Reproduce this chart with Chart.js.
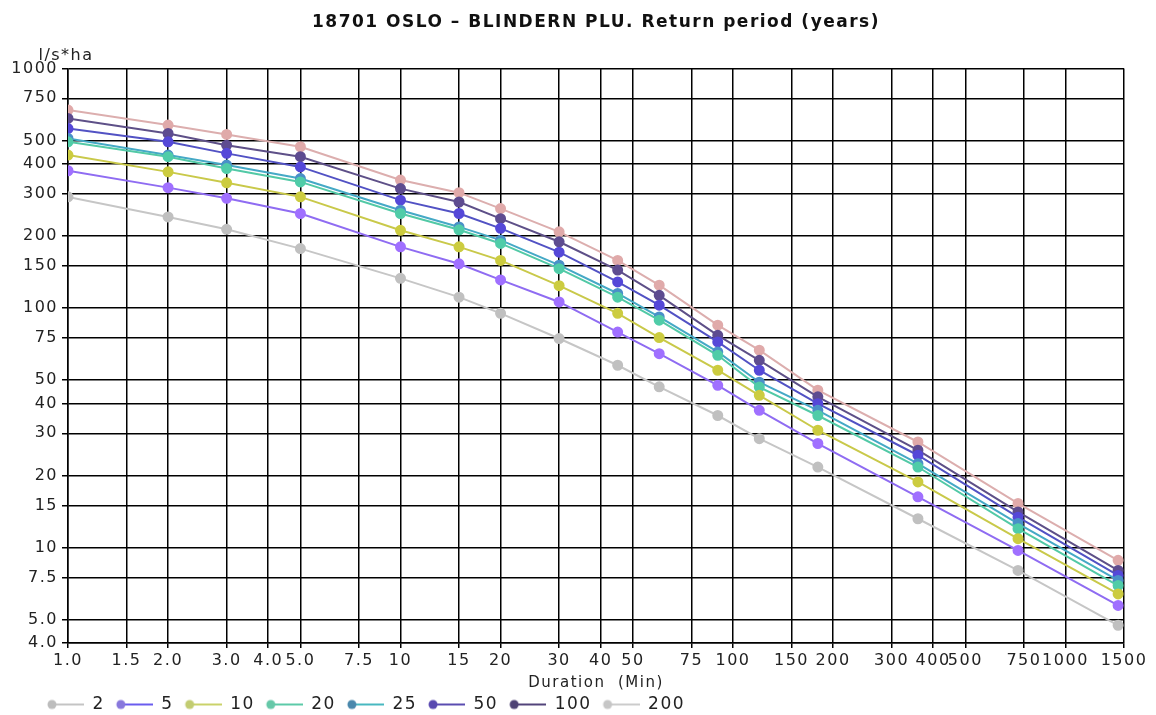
<!DOCTYPE html>
<html>
<head>
<meta charset="utf-8">
<script src="https://cdn.jsdelivr.net/npm/chart.js@4.4.1/dist/chart.umd.min.js"></script>
<style>
  html, body { margin: 0; padding: 0; background: #fff; }
  #wrap { width: 1156px; height: 715px; }
</style>
</head>
<body>
<div id="wrap"><canvas id="idf"></canvas></div>
<script>
// durations in minutes (x), intensities in l/s*ha (y), one array per return period
const durations = [1, 2, 3, 5, 10, 15, 20, 30, 45, 60, 90, 120, 180, 360, 720, 1440];

const rp2   = [291, 240, 213, 177, 133, 111, 95, 74.6, 57.7, 46.9, 35.6, 28.5, 21.7, 13.2, 8.03, 4.74];
const rp5   = [374, 318, 287, 248, 180, 153, 131, 106, 79.4, 64.5, 47.6, 37.4, 27.2, 16.3, 9.74, 5.74];
const rp10  = [435, 370, 333, 291, 211, 180, 158, 124, 95, 75.3, 55, 43.2, 30.9, 18.8, 10.9, 6.41];
const rp20  = [494, 428, 382, 336, 248, 212, 186, 146, 111, 89, 63.5, 46.8, 35.6, 21.7, 12.0, 6.95];
const rp25  = [510, 435, 395, 347, 256, 218, 192, 151, 115, 91.8, 65.6, 49, 37.4, 22.4, 12.6, 7.3];
const rp50  = [561, 494, 442, 388, 282, 248, 215, 171, 128.5, 102.8, 72.2, 55, 39.9, 24.3, 13.4, 7.66];
const rp100 = [618, 535, 478, 428, 315, 277, 236, 189, 144, 113, 76.9, 60.5, 42.6, 25.5, 14.1, 8.03];
const rp200 = [670, 580, 530, 471, 342, 303, 260, 208, 158, 124.5, 84.8, 66.7, 45.4, 27.6, 15.3, 8.85];

const seriesNames = ['2', '5', '10', '20', '25', '50', '100', '200'];
const seriesValues = [rp2, rp5, rp10, rp20, rp25, rp50, rp100, rp200];

// tick positions and their printed labels
const xTickValues = [1, 1.5, 2, 3, 4, 5, 7.5, 10, 15, 20, 30, 40, 50, 75, 100, 150, 200, 300, 400, 500, 750, 1000, 1500];
const xTickLabels = ['1.0', '1.5', '2.0', '3.0', '4.0', '5.0', '7.5', '10', '15', '20', '30', '40', '50', '75', '100', '150', '200', '300', '400', '500', '750', '1000', '1500'];
const yTickValues = [4, 5, 7.5, 10, 15, 20, 30, 40, 50, 75, 100, 150, 200, 300, 400, 500, 750, 1000];
const yTickLabels = ['4.0', '5.0', '7.5', '10', '15', '20', '30', '40', '50', '75', '100', '150', '200', '300', '400', '500', '750', '1000'];

const lineColors   = ['#c6c6c6', '#8f6cf2', '#c9c94a', '#52c9a6', '#45a9c6', '#5252c4', '#5e5088', '#dcaeae'];
const pointColors  = ['#c0c0c0', '#a070ff', '#cccc40', '#50cca8', '#4a90c8', '#5548d8', '#5e4c90', '#e0aaaa'];
// the legend swatches in the original use slightly different tints
const legendLines  = ['#c4c4c4', '#6a5cee', '#cad26a', '#5ccaa8', '#48b8c0', '#5a4cb0', '#52447a', '#cccccc'];
const legendPoints = ['#bdbdbd', '#8878dc', '#c2cc72', '#66c8a8', '#4a88ac', '#5848b0', '#4e4274', '#c6c6c6'];

const FONT = "'DejaVu Sans', sans-serif";

const datasets = seriesNames.map((name, i) => ({
    label: name,
    data: durations.map((d, j) => ({ x: d, y: seriesValues[i][j] })),
    borderColor: lineColors[i],
    backgroundColor: pointColors[i],
    pointBackgroundColor: pointColors[i],
    pointBorderColor: pointColors[i],
    borderWidth: 2,
    pointRadius: 4.5,
    tension: 0
}));

// small "dot + line" swatch for each legend entry
function makeSwatch(lineCol, dotCol) {
    const c = document.createElement('canvas');
    c.width = 38;
    c.height = 12;
    const g = c.getContext('2d');
    g.strokeStyle = lineCol;
    g.lineWidth = 2;
    g.beginPath();
    g.moveTo(5, 6);
    g.lineTo(38, 6);
    g.stroke();
    g.fillStyle = dotCol;
    g.beginPath();
    g.arc(6, 6, 4.5, 0, Math.PI * 2);
    g.fill();
    return c;
}
const swatches = seriesNames.map((n, i) => makeSwatch(legendLines[i], legendPoints[i]));

// wider letter spacing to get closer to the original's font metrics
const spacing = {
    id: 'spacing',
    beforeUpdate(chart) { chart.ctx.letterSpacing = '1.5px'; },
    beforeDraw(chart) { chart.ctx.letterSpacing = '1.5px'; }
};

// fix the legend strip height and start it under the y axis labels
const legendPlace = {
    id: 'legendPlace',
    beforeLayout(chart) {
        const lg = chart.legend;
        if (lg && !lg._patched) {
            const fit = lg.fit.bind(lg);
            lg.fit = function () { fit(); this.height = 22; };
            lg._patched = true;
        }
    },
    afterLayout(chart) {
        if (chart.legend) {
            chart.legend.left = 36;
            chart.legend.top -= 7;
        }
    }
};

// unit label above the y axis
const unitLabel = {
    id: 'unitLabel',
    afterDraw(chart) {
        const { ctx, chartArea } = chart;
        ctx.save();
        ctx.font = '16px ' + FONT;
        ctx.fillStyle = '#222';
        ctx.textAlign = 'center';
        ctx.textBaseline = 'middle';
        ctx.fillText('l/s*ha', chartArea.left - 2, chartArea.top - 13);
        ctx.restore();
    }
};

new Chart(document.getElementById('idf'), {
    type: 'line',
    data: { datasets },
    plugins: [spacing, legendPlace, unitLabel],
    options: {
        responsive: true,
        maintainAspectRatio: false,
        animation: false,
        layout: { padding: { left: 0, right: 32, top: 0, bottom: 0 } },
        plugins: {
            title: {
                display: true,
                fullSize: false,
                text: '18701 OSLO – BLINDERN PLU. Return period (years)',
                color: '#111',
                font: { family: FONT, size: 17, weight: 'bold' },
                padding: { top: 12, bottom: 36 }
            },
            legend: {
                position: 'bottom',
                align: 'start',
                labels: {
                    color: '#222',
                    font: { family: FONT, size: 17 },
                    usePointStyle: true,
                    pointStyleWidth: 38,
                    padding: 10,
                    generateLabels: (chart) => {
                        const items = Chart.defaults.plugins.legend.labels.generateLabels(chart);
                        items.forEach((it, i) => { it.pointStyle = swatches[i]; });
                        return items;
                    }
                }
            },
            tooltip: { enabled: false }
        },
        scales: {
            x: {
                type: 'logarithmic',
                min: 1,
                max: 1500,
                afterBuildTicks: (axis) => { axis.ticks = xTickValues.map(v => ({ value: v })); },
                afterFit: (axis) => { axis.height = 50; },
                ticks: {
                    autoSkip: false,
                    maxRotation: 0,
                    minRotation: 0,
                    color: '#222',
                    padding: 3,
                    font: { family: FONT, size: 16 },
                    callback: (v, i) => xTickLabels[i]
                },
                grid: { color: '#000', lineWidth: 1.5, tickLength: 5 },
                border: { color: '#000', width: 1.5 },
                title: {
                    display: true,
                    text: 'Duration  (Min)',
                    color: '#222',
                    font: { family: FONT, size: 15 },
                    padding: { top: 0, bottom: 1 }
                }
            },
            y: {
                type: 'logarithmic',
                min: 4,
                max: 1000,
                afterBuildTicks: (axis) => { axis.ticks = yTickValues.map(v => ({ value: v })); },
                afterFit: (axis) => { axis.width = 68; },
                ticks: {
                    autoSkip: false,
                    color: '#222',
                    padding: 4,
                    font: { family: FONT, size: 16 },
                    callback: (v, i) => yTickLabels[i]
                },
                grid: { color: '#000', lineWidth: 1.5, tickLength: 6 },
                border: { color: '#000', width: 1.5 }
            }
        }
    }
});
</script>
</body>
</html>
